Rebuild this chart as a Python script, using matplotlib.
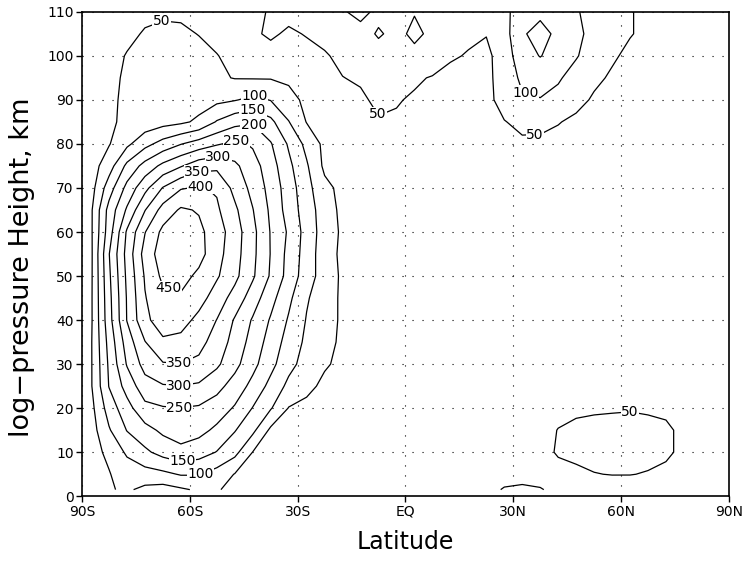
import matplotlib
matplotlib.use('Agg')
import matplotlib.pyplot as plt

plt.rcParams['font.family'] = ['Liberation Sans Narrow', 'DejaVu Sans']

# grid of the field (latitude, log-pressure height in km)
lat = [-87.5, -82.5, -77.5, -72.5, -67.5, -62.5, -57.5, -52.5, -47.5, -42.5,
       -37.5, -32.5, -27.5, -22.5, -17.5, -12.5, -7.5, -2.5, 2.5, 7.5,
       12.5, 17.5, 22.5, 27.5, 32.5, 37.5, 42.5, 47.5, 52.5, 57.5,
       62.5, 67.5, 72.5, 77.5, 82.5, 87.5]
height = [1.5, 5, 10, 15, 20, 25, 30, 35, 40, 45, 50, 55, 60, 65, 70, 75,
          80, 85, 90, 95, 100, 105, 110]

# values, one row per height
amp = [
    [30, 46, 57, 38, 30, 43, 57, 53, 40, 33, 28, 25, 23, 22, 21, 20, 20, 22, 25, 28, 32, 36, 42, 52, 55, 52, 42, 36, 34, 33, 32, 30, 27, 24, 22, 20],
    [35, 48, 68, 80, 88, 104, 103, 80, 48, 37, 31, 28, 26, 24, 23, 22, 22, 24, 27, 30, 33, 36, 38, 40, 40, 38, 40, 45, 49, 51, 51, 48, 42, 35, 28, 24],
    [38, 57, 109, 140, 168, 185, 172, 148, 115, 49, 38, 32, 29, 27, 25, 24, 24, 26, 28, 31, 34, 36, 37, 37, 37, 40, 53, 56, 60, 62, 62, 60, 56, 42, 32, 26],
    [28, 95, 152, 183, 210, 225, 215, 190, 153, 112, 40, 33, 30, 28, 27, 26, 26, 27, 29, 31, 33, 35, 36, 36, 36, 38, 51, 57, 59, 60, 60, 59, 56, 42, 32, 26],
    [35, 122, 182, 236, 246, 249, 244, 226, 195, 148, 104, 48, 38, 33, 30, 29, 28, 29, 30, 32, 33, 34, 35, 35, 36, 37, 40, 44, 46, 47, 48, 46, 43, 37, 30, 25],
    [45, 152, 219, 280, 296, 299, 293, 266, 229, 185, 135, 88, 62, 40, 33, 30, 29, 29, 30, 31, 32, 33, 34, 34, 35, 36, 37, 38, 39, 39, 39, 38, 36, 33, 28, 24],
    [45, 158, 254, 318, 346, 349, 338, 309, 265, 215, 165, 115, 81, 55, 40, 33, 30, 30, 30, 31, 32, 33, 33, 34, 34, 35, 35, 36, 36, 36, 36, 35, 34, 31, 27, 23],
    [45, 167, 273, 348, 392, 385, 367, 327, 283, 230, 180, 130, 90, 64, 42, 33, 30, 30, 30, 30, 31, 32, 33, 33, 34, 34, 34, 34, 34, 34, 34, 33, 32, 30, 27, 23],
    [42, 181, 302, 389, 424, 420, 386, 349, 295, 245, 195, 145, 97, 69, 43, 33, 30, 29, 29, 29, 30, 31, 32, 32, 33, 33, 33, 33, 33, 33, 33, 32, 31, 29, 26, 22],
    [42, 185, 304, 397, 438, 443, 420, 376, 331, 275, 217, 161, 105, 72, 42, 33, 30, 29, 29, 29, 30, 31, 32, 32, 33, 33, 33, 33, 33, 33, 33, 32, 31, 29, 26, 22],
    [41, 191, 310, 405, 461, 468, 439, 406, 363, 307, 244, 182, 123, 77, 42, 31, 29, 28, 28, 28, 29, 30, 31, 31, 32, 32, 32, 32, 32, 32, 32, 31, 30, 28, 25, 22],
    [40, 198, 317, 420, 476, 485, 468, 418, 370, 312, 248, 185, 128, 72, 40, 30, 28, 27, 27, 27, 28, 29, 30, 30, 31, 31, 31, 31, 31, 31, 31, 30, 29, 27, 24, 21],
    [42, 176, 307, 398, 463, 476, 462, 424, 374, 314, 247, 193, 130, 77, 42, 31, 28, 27, 27, 27, 28, 29, 30, 30, 30, 30, 30, 30, 30, 30, 30, 29, 28, 26, 24, 21],
    [42, 168, 257, 348, 419, 457, 446, 408, 360, 302, 241, 179, 125, 75, 38, 29, 27, 26, 26, 26, 27, 28, 29, 29, 29, 29, 29, 29, 29, 29, 29, 28, 27, 25, 23, 21],
    [30, 126, 215, 285, 353, 396, 405, 394, 335, 285, 233, 175, 117, 63, 37, 28, 27, 26, 26, 26, 26, 27, 28, 28, 28, 28, 28, 28, 28, 28, 28, 27, 26, 24, 22, 20],
    [28, 77, 162, 218, 263, 296, 330, 338, 310, 271, 222, 162, 106, 40, 30, 25, 26, 26, 26, 25, 25, 26, 27, 27, 27, 27, 27, 27, 27, 27, 27, 26, 25, 23, 21, 20],
    [20, 47, 89, 134, 169, 198, 222, 245, 262, 244, 204, 144, 86, 38, 28, 22, 30, 30, 28, 26, 25, 25, 27, 36, 42, 40, 38, 35, 30, 27, 25, 24, 23, 22, 21, 20],
    [22, 44, 58, 70, 82, 91, 109, 154, 183, 195, 163, 102, 48, 35, 30, 28, 46, 45, 40, 35, 32, 30, 30, 48, 62, 63, 52, 42, 35, 30, 28, 26, 24, 22, 21, 20],
    [25, 45, 55, 62, 68, 74, 80, 88, 97, 112, 98, 65, 40, 32, 35, 42, 60, 53, 45, 38, 34, 32, 35, 70, 97, 98, 85, 62, 45, 36, 30, 27, 25, 23, 21, 20],
    [25, 40, 56, 62, 64, 65, 63, 57, 48, 47, 47, 42, 38, 40, 49, 56, 68, 64, 56, 47, 38, 33, 30, 85, 105, 118, 106, 80, 58, 45, 38, 33, 29, 26, 23, 21],
    [25, 38, 52, 60, 63, 63, 60, 51, 42, 40, 38, 38, 40, 45, 62, 75, 85, 80, 90, 78, 55, 47, 38, 75, 128, 152, 130, 104, 75, 55, 42, 35, 30, 27, 24, 22],
    [25, 32, 42, 53, 57, 56, 49, 42, 40, 45, 55, 45, 52, 65, 80, 85, 104, 90, 108, 92, 70, 58, 52, 80, 145, 165, 140, 115, 80, 62, 52, 42, 35, 30, 27, 24],
    [22, 28, 35, 42, 45, 44, 40, 38, 38, 42, 53, 60, 70, 80, 96, 112, 90, 92, 98, 90, 78, 65, 60, 85, 130, 140, 130, 105, 80, 64, 52, 42, 36, 31, 28, 25],
]

levels = [50, 100, 150, 200, 250, 300, 350, 400, 450]

x_ticks = [-90, -60, -30, 0, 30, 60, 90]
x_labels = ['90S', '60S', '30S', 'EQ', '30N', '60N', '90N']
y_ticks = [0, 10, 20, 30, 40, 50, 60, 70, 80, 90, 100, 110]

# where the contour labels sit (lat, km)
label_spots = [(-67.5, 107), (-42, 91.2), (-42.5, 87.5), (-42.5, 84), (-47, 80.6),
               (-52, 77), (-58, 73.7), (-57, 70.3), (-66, 46.8), (-63, 30),
               (-63, 24.6), (-63, 19.8), (-62, 7.8), (-57, 4.9), (-8.5, 86.3),
               (33, 90.6), (36, 83), (62.5, 19.3)]

fig = plt.figure(figsize=(7.46, 5.62), dpi=100)
ax = fig.add_axes([0.110, 0.117, 0.867, 0.862])

ax.set_xticks(x_ticks)
ax.set_xticklabels(x_labels)
ax.set_yticks(y_ticks)
ax.grid(True, color='black', linestyle=(0, (1, 8)), linewidth=0.8)
ax.set_axisbelow(True)

cs = ax.contour(lat, height, amp, levels=levels, colors='black', linewidths=0.9)
labels = ax.clabel(cs, fmt='%d', fontsize=10, inline=False, manual=label_spots)
for t in labels:
    t.set_rotation(0)
    t.set_bbox(dict(facecolor='white', edgecolor='none', pad=0.3))

ax.set_xlim(-90, 90)
ax.set_ylim(0, 110)
for s in ax.spines.values():
    s.set_linewidth(1.2)
ax.tick_params(direction='out', length=4, width=1, labelsize=10, pad=2)

ax.set_xlabel('Latitude', fontsize=17, labelpad=8, family='DejaVu Sans')
ax.set_ylabel('log\u2212pressure Height, km', fontsize=19.5, family='DejaVu Sans')
ax.yaxis.set_label_coords(-0.072, 0.472)

fig.savefig('out.png', dpi=100)
